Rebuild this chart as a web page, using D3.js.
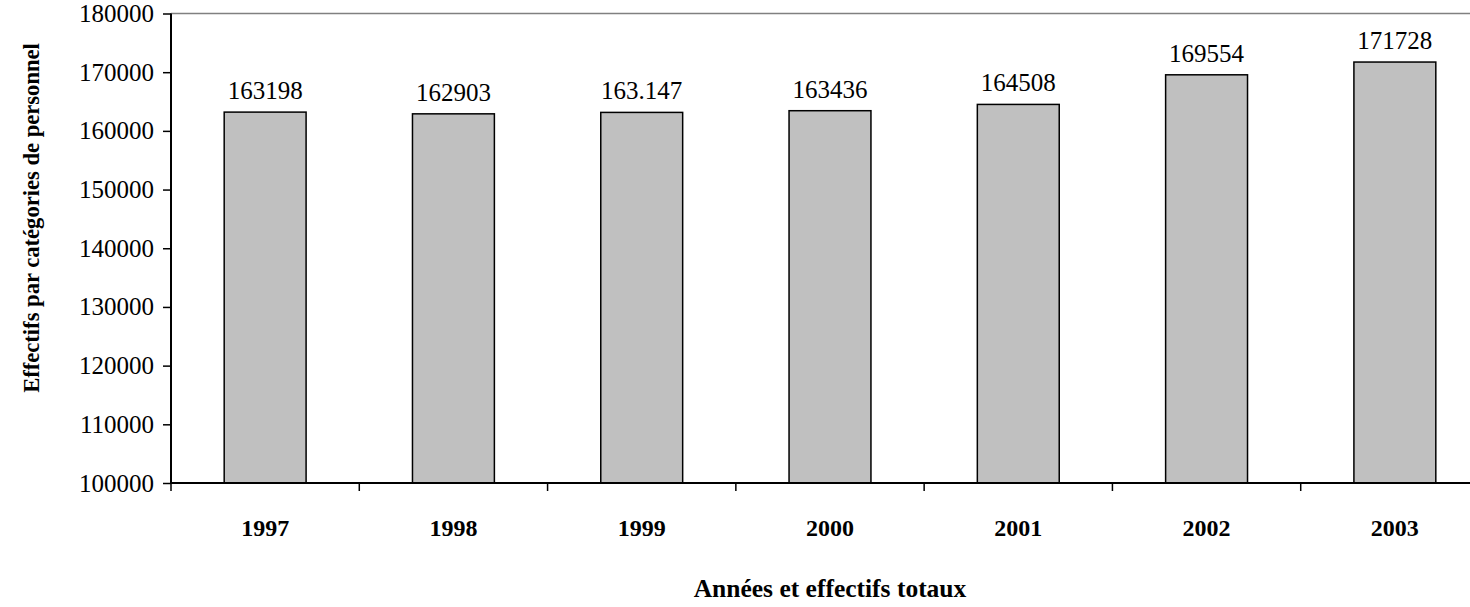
<!DOCTYPE html>
<html>
<head>
<meta charset="utf-8">
<script src="https://cdn.jsdelivr.net/npm/d3@7"></script>
<style>
  html, body { margin: 0; padding: 0; background: #fff; overflow: hidden; }
  svg { display: block; font-family: "Liberation Serif", "Times New Roman", serif; }
</style>
</head>
<body>
<svg id="chart" width="1470" height="607"></svg>
<script>
const years = ["1997", "1998", "1999", "2000", "2001", "2002", "2003"];
const values = [163198, 162903, 163147, 163436, 164508, 169554, 171728];
const valueLabels = ["163198", "162903", "163.147", "163436", "164508", "169554", "171728"];
const yTicks = [100000, 110000, 120000, 130000, 140000, 150000, 160000, 170000, 180000];
const yTitle = "Effectifs par catégories de personnel";
const xTitle = "Années et effectifs totaux";

(function () {
const svg = d3.select("#chart");
const pLeft = 171, pRight = 1489, pTop = 13.5, pBottom = 483;

const x = d3.scaleBand().domain(years).range([pLeft, pRight]).paddingInner(0.565).paddingOuter(0.2825);
const y = d3.scaleLinear().domain([100000, 180000]).range([pBottom, pTop]);
const step = x.step();

// top border (plot area)
svg.append("line").attr("x1", pLeft).attr("x2", pRight).attr("y1", pTop).attr("y2", pTop)
  .attr("stroke", "#808080").attr("stroke-width", 1.5);

// bars
svg.append("g").selectAll("rect").data(years).join("rect")
  .attr("x", d => x(d))
  .attr("y", (d, i) => y(values[i]))
  .attr("width", x.bandwidth())
  .attr("height", (d, i) => y(100000) - y(values[i]))
  .attr("fill", "#c0c0c0").attr("stroke", "#000").attr("stroke-width", 1.5);

// value labels
svg.append("g").selectAll("text").data(years).join("text")
  .attr("x", d => x(d) + x.bandwidth() / 2)
  .attr("y", (d, i) => y(values[i]) - 13)
  .attr("text-anchor", "middle")
  .attr("font-family", "Liberation Serif, serif")
  .attr("font-size", 25)
  .attr("fill", "#000")
  .text((d, i) => valueLabels[i]);

// y axis
const yAxis = svg.append("g").attr("transform", `translate(${pLeft},0)`)
  .call(d3.axisLeft(y).tickValues(yTicks).tickFormat(d3.format("d")).tickSize(8).tickPadding(9));
yAxis.attr("font-family", "Liberation Serif, serif");
yAxis.select(".domain").attr("stroke", "#000").attr("stroke-width", 2).attr("d", `M0,${pTop}V${pBottom}`);
yAxis.selectAll(".tick line").attr("stroke", "#000").attr("stroke-width", 1.5);
yAxis.selectAll(".tick text").attr("font-size", 25).attr("fill", "#000");

// x axis baseline
svg.append("line").attr("x1", pLeft).attr("x2", pRight).attr("y1", pBottom).attr("y2", pBottom)
  .attr("stroke", "#000").attr("stroke-width", 2);

// x ticks at band boundaries
const boundaries = years.map(d => x(d) - step * x.paddingOuter()).concat([pRight]);
svg.append("g").selectAll("line").data(boundaries).join("line")
  .attr("x1", d => d).attr("x2", d => d).attr("y1", pBottom).attr("y2", pBottom + 8)
  .attr("stroke", "#000").attr("stroke-width", 1.5);

// x category labels
svg.append("g").selectAll("text").data(years).join("text")
  .attr("x", d => x(d) + x.bandwidth() / 2)
  .attr("y", 536)
  .attr("text-anchor", "middle")
  .attr("font-size", 24).attr("font-weight", "bold")
  .text(d => d);

// axis titles
svg.append("text")
  .attr("x", (pLeft + pRight) / 2).attr("y", 597)
  .attr("text-anchor", "middle").attr("font-size", 25.5).attr("font-weight", "bold")
  .text(xTitle);

svg.append("text")
  .attr("transform", "translate(39,218) rotate(-90)")
  .attr("text-anchor", "middle").attr("font-size", 22.6).attr("font-weight", "bold")
  .text(yTitle);
})();
</script>
</body>
</html>
